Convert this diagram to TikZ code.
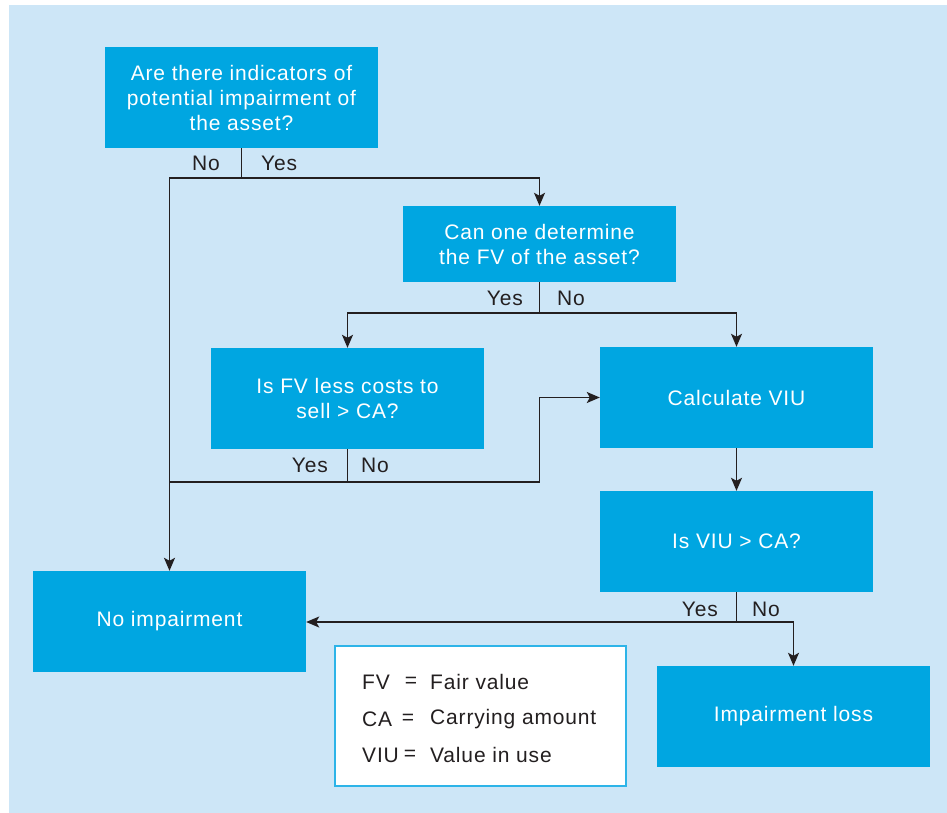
\documentclass[tikz,border=0pt]{standalone}
\usepackage{fontspec}
\setmainfont{Liberation Sans}[LetterSpace=4]
\usetikzlibrary{arrows.meta}
\definecolor{bgblue}{HTML}{CDE6F7}
\definecolor{boxblue}{HTML}{00A6E1}
\definecolor{ink}{HTML}{231F20}
\definecolor{legblue}{HTML}{2DB4E8}
\begin{document}
\begin{tikzpicture}[x=1pt,y=-1pt,
  box/.style={fill=boxblue, text=white, minimum width=273pt, minimum height=101pt,
    inner sep=0pt, align=center, font=\fontsize{21}{25}\selectfont},
  lbl/.style={text=ink, font=\fontsize{21}{24}\selectfont, inner sep=0pt},
  conn/.style={draw=ink, line width=1.5pt},
  arr/.style={conn, -{Stealth[length=13pt,width=11pt,inset=3pt]}}]
\useasboundingbox (0,0) rectangle (947,813);
\fill[bgblue] (9,5) rectangle (947,813);

% boxes
\node[box] (n1) at (241.5,97.5) {Are there indicators of\\potential impairment of\\the asset?};
\node[box, minimum height=76pt] (n2) at (539.5,244) {Can one determine\\the FV of the asset?};
\node[box] (n3) at (347.5,398.5) {Is FV less costs to\\sell > CA?};
\node[box] (n4) at (736.5,397.5) {Calculate VIU};
\node[box] (n5) at (736.5,541.5) {Is VIU > CA?};
\node[box] (n6) at (169.5,621.5) {No impairment};
\node[box] (n7) at (793.5,716.5) {Impairment loss};

% legend
\node[draw=legblue, fill=white, line width=1.2pt, minimum width=291pt, minimum height=140pt, inner sep=0pt] (leg) at (480.5,716) {};
\node[lbl, anchor=west] (a1) at (362,682) {FV};
\node[lbl, anchor=west] (a2) at (362,719) {CA};
\node[lbl, anchor=west] (a3) at (362,755) {VIU};
\node[lbl] (e1) at (411,682) {=};
\node[lbl] (e2) at (408,719) {=};
\node[lbl] (e3) at (410,755) {=};
\node[lbl, anchor=west] (d1) at (430,682) {Fair value};
\node[lbl, anchor=west] (d2) at (430,719) {Carrying amount};
\node[lbl, anchor=west] (d3) at (430,755) {Value in use};

% junction coordinates
\coordinate (j1) at (241.5,178);
\coordinate (j2) at (539.5,313);
\coordinate (j3) at (347.5,482);
\coordinate (j5) at (736.5,622);

% connectors
\draw[conn] (n1.south) -- (j1);
\draw[arr] (j1) -| (n2.north);
\draw[arr] (j1) -| (n6.north);
\draw[conn] (n2.south) -- (j2);
\draw[arr] (j2) -| (n3.north);
\draw[arr] (j2) -| (n4.north);
\draw[conn] (n3.south) -- (j3);
\draw[conn] (j3) -- (j3 -| n6.north);
\draw[arr] (j3) -| (539.5,397.5) -- (n4.west);
\draw[arr] (n4) -- (n5);
\draw[conn] (n5.south) -- (j5);
\draw[arr] (j5) -- (n6.east |- j5);
\draw[arr] (j5) -| (n7.north);

% branch labels
\node[lbl, anchor=east] (l1n) at (220,163) {No};
\node[lbl, anchor=west] (l1y) at (261,163) {Yes};
\node[lbl, anchor=east] (l2y) at (523,298) {Yes};
\node[lbl, anchor=west] (l2n) at (557,298) {No};
\node[lbl, anchor=east] (l3y) at (328,465) {Yes};
\node[lbl, anchor=west] (l3n) at (361,465) {No};
\node[lbl, anchor=east] (l5y) at (718,609) {Yes};
\node[lbl, anchor=west] (l5n) at (752,609) {No};
\end{tikzpicture}
\end{document}
